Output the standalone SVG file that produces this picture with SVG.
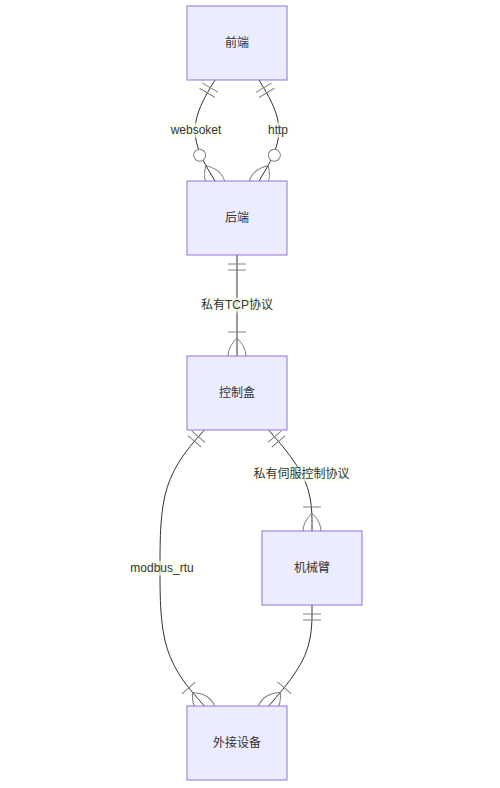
<svg xmlns="http://www.w3.org/2000/svg" width="500" height="788" viewBox="0 0 500 788">
<style>
.edge{fill:none;stroke:#333;stroke-width:1}
.mk{fill:none;stroke:gray;stroke-width:1}
.mkc{fill:#fff;stroke:gray;stroke-width:1}
.box{fill:#ECECFF;stroke:#9370DB;stroke-width:1}
.txt{font-family:"Liberation Sans","Noto Sans CJK SC",sans-serif;font-size:12px;fill:#333;text-anchor:middle;dominant-baseline:central}
.lblbg{fill:#f8ffeb;opacity:0.7}
</style>
<defs>
<marker id="onlyOneStart" refX="0" refY="9" markerWidth="18" markerHeight="18" orient="auto" markerUnits="userSpaceOnUse">
<path class="mk" d="M9,0 L9,18 M15,0 L15,18"/>
</marker>
<marker id="zeroOrMoreEnd" refX="39" refY="18" markerWidth="57" markerHeight="36" orient="auto" markerUnits="userSpaceOnUse">
<circle class="mkc" cx="9" cy="18" r="6"/>
<path class="mk" d="M21,18 Q39,0 57,18 Q39,36 21,18"/>
</marker>
<marker id="oneOrMoreEnd" refX="27" refY="18" markerWidth="45" markerHeight="36" orient="auto" markerUnits="userSpaceOnUse">
<path class="mk" d="M3,9 L3,27 M9,18 Q27,0 45,18 Q27,36 9,18"/>
</marker>
</defs>
<g id="connectors">
<path id="e-websoket" class="edge" marker-start="url(#onlyOneStart)" marker-end="url(#zeroOrMoreEnd)" d="M215,80 L210,88.4 C205,96.8 195,113.7 195,130.5 C195,147.3 205,164.2 210,172.6 L215,181"/>
<path id="e-http" class="edge" marker-start="url(#onlyOneStart)" marker-end="url(#zeroOrMoreEnd)" d="M259,80 L264,88.4 C269,96.8 279,113.7 279,130.5 C279,147.3 269,164.2 264,172.6 L259,181"/>
<path id="e-tcp" class="edge" marker-start="url(#onlyOneStart)" marker-end="url(#oneOrMoreEnd)" d="M237,255 L237,356"/>
<path id="e-servo" class="edge" marker-start="url(#onlyOneStart)" marker-end="url(#oneOrMoreEnd)" d="M268.7,430 L275.9,438.4 C283.1,446.8 297.6,463.7 304.8,480.5 C312,497.3 312,514.2 312,522.6 L312,531"/>
<path id="e-modbus" class="edge" marker-start="url(#onlyOneStart)" marker-end="url(#oneOrMoreEnd)" d="M204.4,430 L197,438.4 C189.6,446.8 174.8,463.7 167.4,486.7 C160,509.7 160,538.8 160,568 C160,597.2 160,626.3 167.4,649.3 C174.8,672.3 189.6,689.2 197,697.6 L204.4,706"/>
<path id="e-arm" class="edge" marker-start="url(#onlyOneStart)" marker-end="url(#oneOrMoreEnd)" d="M312,605 L312,613.4 C312,621.8 312,638.7 304.8,655.5 C297.6,672.3 283.1,689.2 275.9,697.6 L268.7,706"/>
<g id="edge-labels">
<rect class="lblbg" x="170.5" y="122.5" width="51" height="15"/>
<text class="txt" x="196" y="130">websoket</text>
<rect class="lblbg" x="267" y="122.5" width="22" height="15"/>
<text class="txt" x="278" y="130">http</text>
<rect class="lblbg" x="203" y="297.5" width="68" height="15"/>
<text class="txt" x="237" y="305">私有TCP协议</text>
<rect class="lblbg" x="253" y="466.5" width="97" height="15"/>
<text class="txt" x="301.5" y="474">私有伺服控制协议</text>
<rect class="lblbg" x="130.5" y="560.5" width="63" height="15"/>
<text class="txt" x="162" y="568">modbus_rtu</text>
</g>
</g>
<g id="node-frontend">
<rect class="box" x="187" y="6" width="100" height="74"/>
<text class="txt" x="237" y="43">前端</text>
</g>
<g id="node-backend">
<rect class="box" x="187" y="181" width="100" height="74"/>
<text class="txt" x="237" y="218">后端</text>
</g>
<g id="node-controlbox">
<rect class="box" x="187" y="356" width="100" height="74"/>
<text class="txt" x="237" y="393">控制盒</text>
</g>
<g id="node-arm">
<rect class="box" x="262" y="531" width="100" height="74"/>
<text class="txt" x="312" y="568">机械臂</text>
</g>
<g id="node-external">
<rect class="box" x="187" y="706" width="100" height="74"/>
<text class="txt" x="237" y="743">外接设备</text>
</g>
</svg>
